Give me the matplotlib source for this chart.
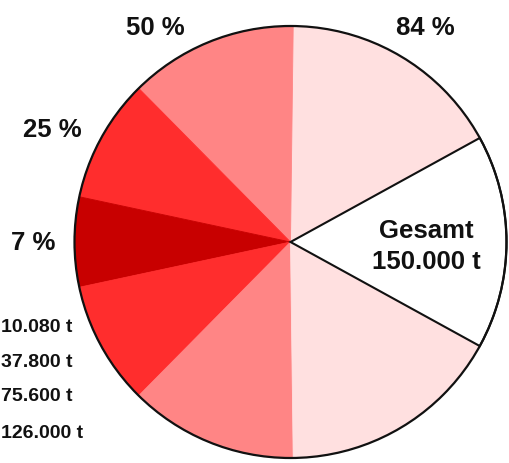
import matplotlib.pyplot as plt
from matplotlib.patches import Circle

plt.rcParams["font.family"] = ["Liberation Sans", "DejaVu Sans"]

# Gesamtmenge und verschachtelte Anteile (t)
gesamt = 150000
mengen = [126000, 75600, 37800, 10080]
prozent_labels = ["84 %", "50 %", "25 %", "7 %"]
mengen_labels = ["10.080 t", "37.800 t", "75.600 t", "126.000 t"]
farben = ["#FFE0E0", "#FF8585", "#FF2D2D", "#C80000"]

W, H = 509, 463

# Sektoren: weiss (Rest), dann Ringe symmetrisch um den dunklen Kern
werte = [gesamt - mengen[0]]
cols = ["white"]
for i in range(len(mengen) - 1):
    werte.append((mengen[i] - mengen[i + 1]) / 2)
    cols.append(farben[i])
werte.append(mengen[-1])
cols.append(farben[-1])
for i in range(len(mengen) - 2, -1, -1):
    werte.append((mengen[i] - mengen[i + 1]) / 2)
    cols.append(farben[i])

fig = plt.figure(figsize=(W / 100, H / 100), dpi=100)
ax = fig.add_axes([0, 0, 1, 1])
ax.set_xlim(0, W)
ax.set_ylim(0, H)
ax.axis("off")

cx, cy, r = 290.5, H - 242, 216
start = -360 * werte[0] / gesamt / 2
wedges, _ = ax.pie(werte, colors=cols, startangle=start, counterclock=True,
                   radius=r, center=(cx, cy), frame=True)
for w, c in zip(wedges, cols):
    w.set_edgecolor(c)
    w.set_linewidth(0.6)
wedges[0].set_edgecolor("#111111")
wedges[0].set_linewidth(1.5)
wedges[0].set_zorder(5)
ax.add_patch(Circle((cx, cy), r, fill=False, edgecolor="#111111", lw=1.6, zorder=6))
ax.set_xlim(0, W)
ax.set_ylim(0, H)
ax.set_aspect("equal")
ax.axis("off")

tc = "#111111"
# Prozentangaben
pos_prozent = [(425, 35), (155, 35), (52, 137), (33, 250)]
for lab, (x, y) in zip(prozent_labels, pos_prozent):
    ax.text(x, H - y, lab, ha="center", va="baseline", fontsize=18.5,
            fontweight="bold", color=tc)

# Mengenangaben links
for lab, y in zip(mengen_labels, [332, 367, 401, 438]):
    ax.text(1, H - y, lab, ha="left", va="baseline", fontsize=14,
            fontweight="bold", color=tc)

ax.text(426, H - 238, "Gesamt", ha="center", va="baseline", fontsize=18.5,
        fontweight="bold", color=tc, zorder=7)
ax.text(426, H - 269, "150.000 t", ha="center", va="baseline", fontsize=18.5,
        fontweight="bold", color=tc, zorder=7)

fig.savefig("out.png", dpi=100)
